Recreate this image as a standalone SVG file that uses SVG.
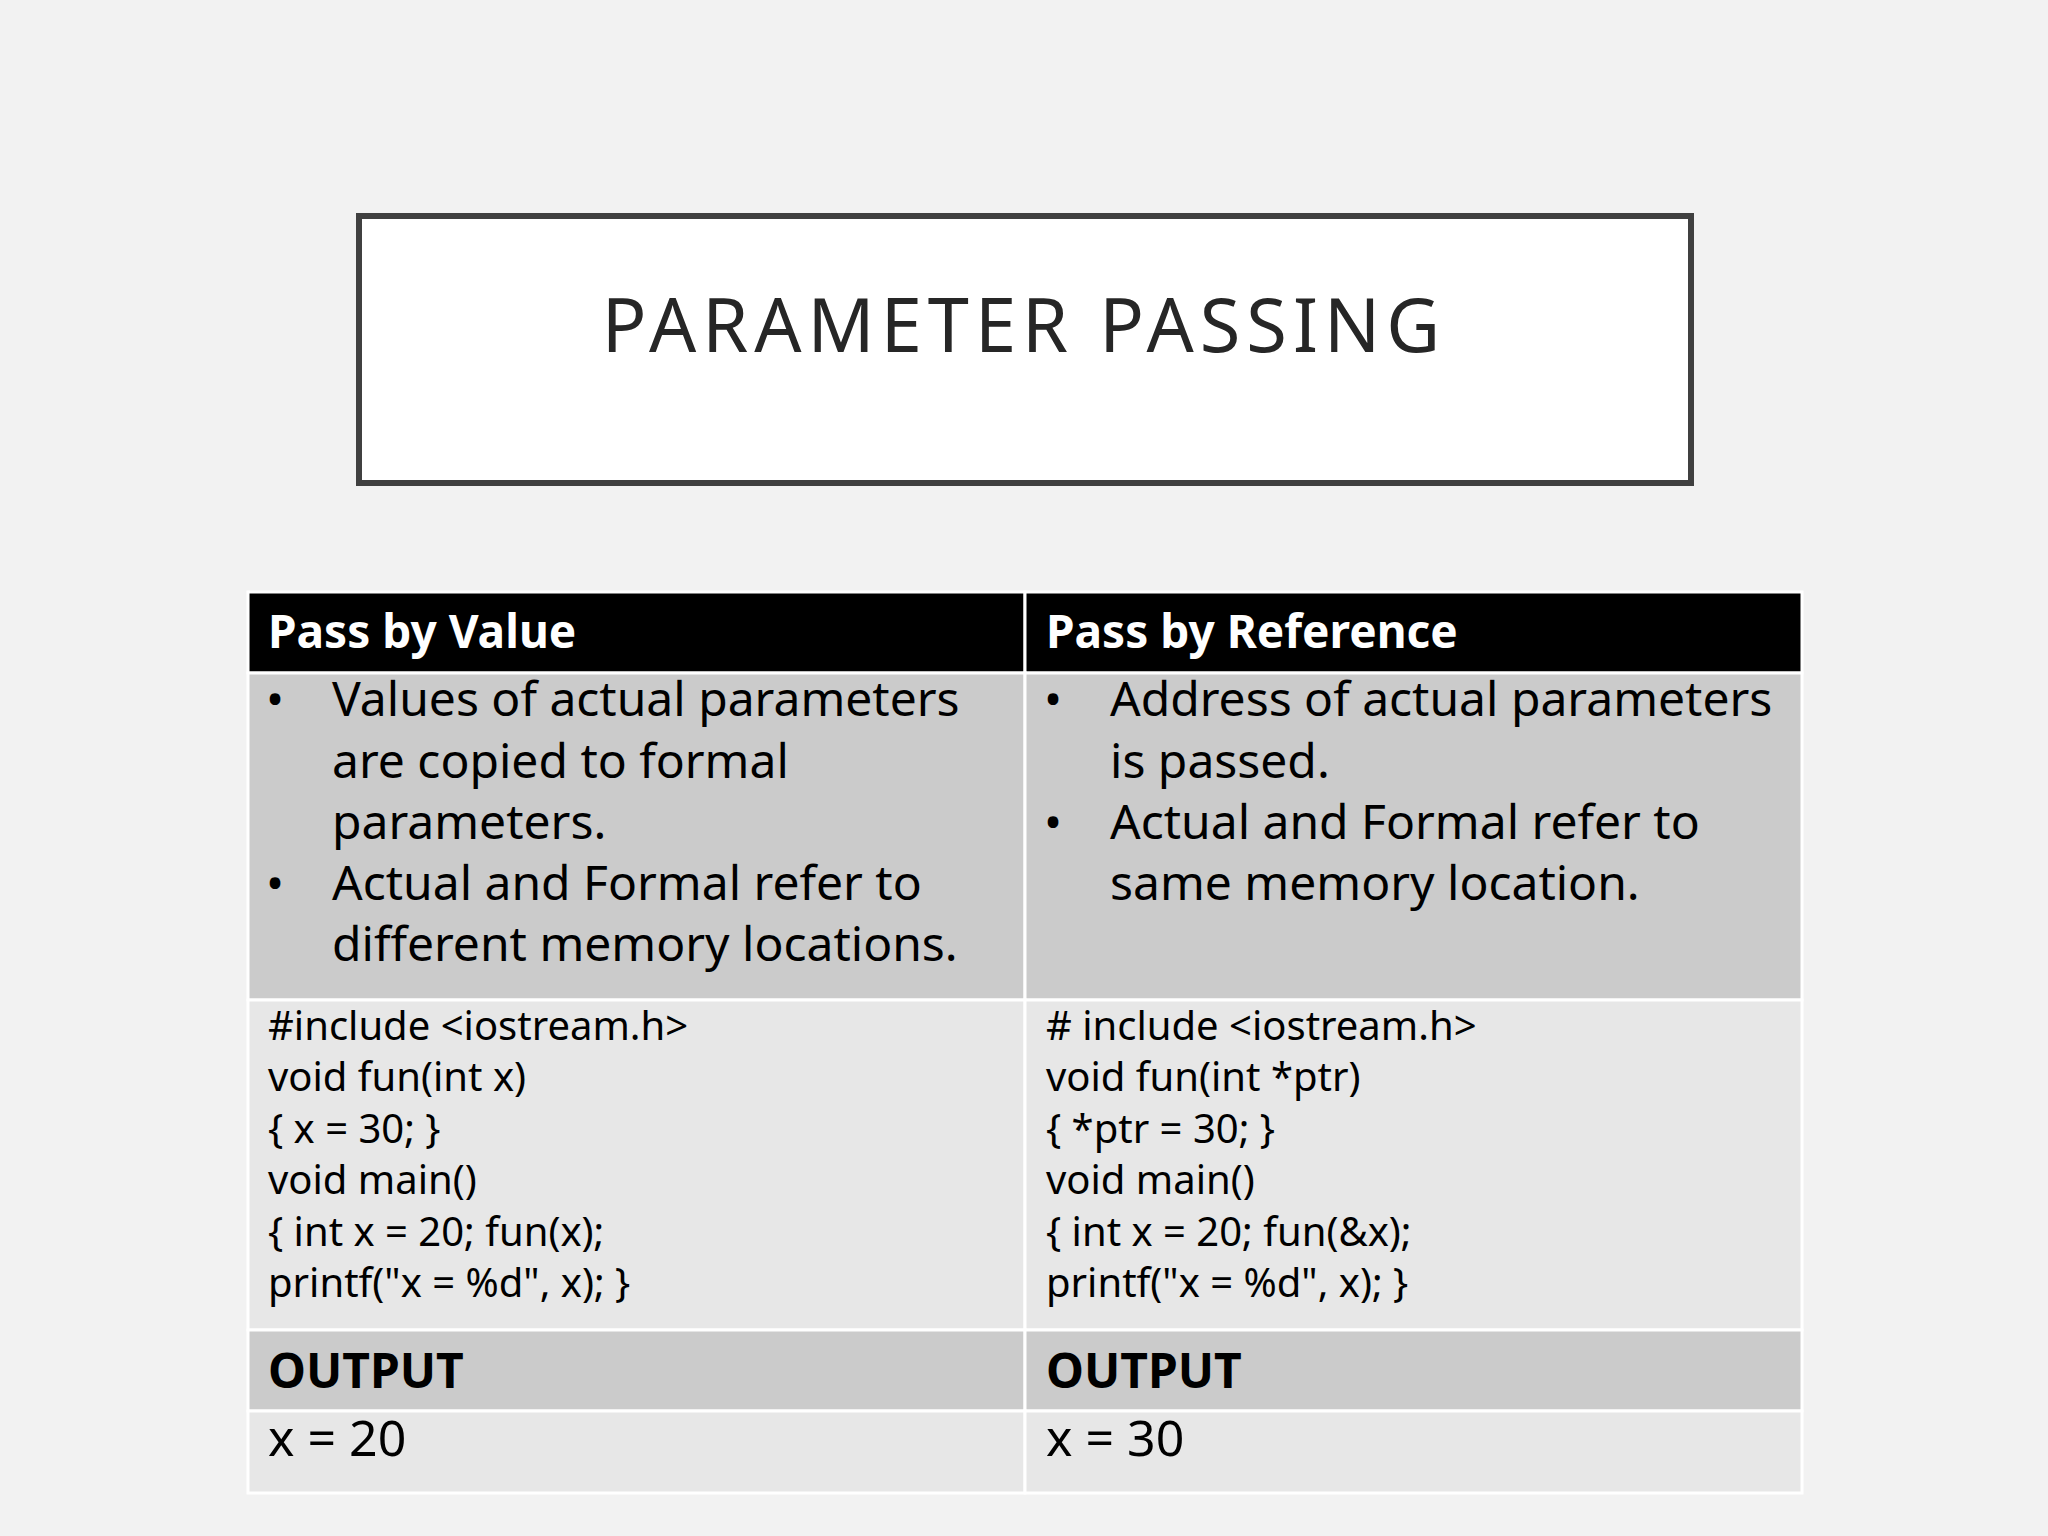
<svg xmlns="http://www.w3.org/2000/svg" width="2048" height="1536" viewBox="0 0 2048 1536">
<style>
text{font-family:"Noto Sans","Open Sans",sans-serif;fill:#000}
.h{font-weight:bold;font-size:46px;fill:#fff}
.b{font-size:48px}
.c{font-size:40px}
.o{font-weight:bold;font-size:48px}
.v{font-size:50px}
.cell{stroke:#fff;stroke-width:3}
</style>
<rect width="2048" height="1536" fill="#f2f2f2"/>
<g id="title">
<rect x="359" y="216" width="1332" height="267" fill="#fff" stroke="#404040" stroke-width="6"/>
<text x="1024" y="352" text-anchor="middle" style="font-size:74px;letter-spacing:6px;fill:#262626">PARAMETER PASSING</text>
</g>
<g id="table">
<rect class="cell" x="248" y="592" width="777" height="81" fill="#000"/>
<rect class="cell" x="1025" y="592" width="777" height="81" fill="#000"/>
<rect class="cell" x="248" y="673" width="777" height="327" fill="#cbcbcb"/>
<rect class="cell" x="1025" y="673" width="777" height="327" fill="#cbcbcb"/>
<rect class="cell" x="248" y="1000" width="777" height="330" fill="#e7e7e7"/>
<rect class="cell" x="1025" y="1000" width="777" height="330" fill="#e7e7e7"/>
<rect class="cell" x="248" y="1330" width="777" height="81" fill="#cbcbcb"/>
<rect class="cell" x="1025" y="1330" width="777" height="81" fill="#cbcbcb"/>
<rect class="cell" x="248" y="1411" width="777" height="82" fill="#e7e7e7"/>
<rect class="cell" x="1025" y="1411" width="777" height="82" fill="#e7e7e7"/>
<text class="h" x="268" y="648">Pass by Value</text>
<text class="h" x="1046" y="648">Pass by Reference</text>
<g class="b">
<text class="b" x="266" y="716">•</text>
<text class="b" x="332" y="716">Values of actual parameters</text>
<text class="b" x="332" y="778">are copied to formal</text>
<text class="b" x="332" y="839">parameters.</text>
<text class="b" x="266" y="900">•</text>
<text class="b" x="332" y="900">Actual and Formal refer to</text>
<text class="b" x="332" y="961">different memory locations.</text>
<text class="b" x="1044" y="716">•</text>
<text class="b" x="1110" y="716">Address of actual parameters</text>
<text class="b" x="1110" y="778">is passed.</text>
<text class="b" x="1044" y="839">•</text>
<text class="b" x="1110" y="839">Actual and Formal refer to</text>
<text class="b" x="1110" y="900">same memory location.</text>
</g>
<g xml:space="preserve">
<text class="c" x="268" y="1040">#include &lt;iostream.h&gt;</text>
<text class="c" x="268" y="1091">void fun(int x)</text>
<text class="c" x="268" y="1143">{    x = 30;    }</text>
<text class="c" x="268" y="1194">void main()</text>
<text class="c" x="268" y="1246">{   int x = 20;      fun(x);</text>
<text class="c" x="268" y="1297">    printf("x = %d", x);     }</text>
<text class="c" x="1046" y="1040"># include &lt;iostream.h&gt;</text>
<text class="c" x="1046" y="1091">void fun(int *ptr)</text>
<text class="c" x="1046" y="1143">{    *ptr = 30;   }</text>
<text class="c" x="1046" y="1194">void main()</text>
<text class="c" x="1046" y="1246">{   int x = 20;    fun(&amp;x);</text>
<text class="c" x="1046" y="1297">  printf("x = %d", x);    }</text>
</g>
<text class="o" x="268" y="1388">OUTPUT</text>
<text class="o" x="1046" y="1388">OUTPUT</text>
<text class="v" x="268" y="1456">x = 20</text>
<text class="v" x="1046" y="1456">x = 30</text>
</g>
</svg>
